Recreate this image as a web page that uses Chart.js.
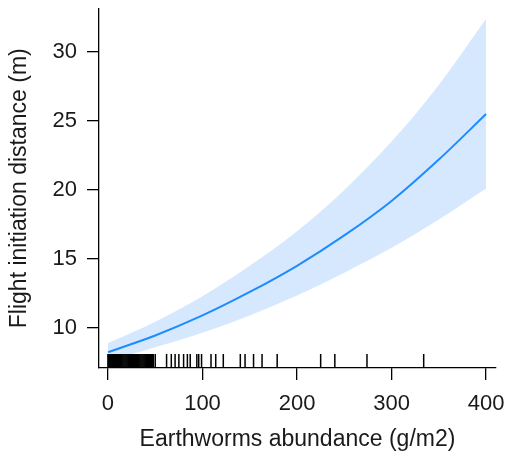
<!DOCTYPE html>
<html>
<head>
<meta charset="utf-8">
<script src="https://cdn.jsdelivr.net/npm/chart.js@4"></script>
<style>
  html, body { margin: 0; padding: 0; background: #fff; }
  #wrap { width: 507px; height: 457px; }
</style>
</head>
<body>
<div id="wrap"><canvas id="fid-chart"></canvas></div>
<script>
const abundance = [0, 50, 100, 150, 200, 250, 300, 350, 400];
// fitted flight initiation distance (m) and its confidence band
const fitted = [8.24, 9.45, 10.9, 12.6, 14.5, 16.7, 19.2, 22.2, 25.5];
const upperCI = [8.9, 10.45, 12.3, 14.5, 17.0, 20.0, 23.5, 27.6, 32.4];
const lowerCI = [7.6, 8.6, 9.65, 10.9, 12.35, 14.0, 15.8, 17.85, 20.1];
// observed abundances (rug)
const observed = [0, 0.5, 1, 1.5, 2, 2.5, 3, 4, 5, 6, 7, 8, 9, 10, 11, 12, 13, 14, 15,
  16, 17, 18, 19, 20, 21, 22, 23, 24, 25, 26, 27, 28, 29, 30, 31, 32, 33, 34, 35,
  36, 37, 38, 39, 40, 41, 42, 43, 44, 45, 46, 47, 48, 50, 62, 67, 71, 75, 80, 84,
  87, 94, 96, 99, 109, 114, 122, 140, 145, 154, 163, 179, 225, 240, 274, 334];
const xTicks = [0, 100, 200, 300, 400];
const yTicks = [10, 15, 20, 25, 30];

const FONT = "'Liberation Sans', Arial, sans-serif";
const INK = '#1a1a1a';

function pts(xs, ys) {
  return xs.map((x, i) => ({ x: x, y: ys[i] }));
}

const ctx = document.getElementById('fid-chart');

new Chart(ctx, {
  type: 'line',
  data: {
    datasets: [
      {
        label: 'upper',
        data: pts(abundance, upperCI),
        order: 3,
        borderWidth: 0,
        pointRadius: 0,
        backgroundColor: '#d6e8fe',
        fill: '+1',
        cubicInterpolationMode: 'monotone'
      },
      {
        label: 'lower',
        data: pts(abundance, lowerCI),
        order: 4,
        borderWidth: 0,
        pointRadius: 0,
        fill: false,
        cubicInterpolationMode: 'monotone'
      },
      {
        label: 'fit',
        data: pts(abundance, fitted),
        order: 1,
        borderColor: '#1e8cff',
        borderWidth: 2,
        pointRadius: 0,
        fill: false,
        cubicInterpolationMode: 'monotone'
      },
      {
        label: 'rug',
        data: observed.map(v => ({ x: v, y: 7.6 })),
        order: 0,
        showLine: false,
        pointStyle: 'line',
        rotation: 90,
        pointRadius: 7,
        borderWidth: 1.5,
        borderColor: '#000',
        pointBorderColor: '#000'
      }
    ]
  },
  options: {
    responsive: true,
    maintainAspectRatio: false,
    animation: false,
    events: [],
    layout: { padding: { top: 5, right: 11, left: 0, bottom: 0 } },
    plugins: {
      legend: { display: false },
      tooltip: { enabled: false }
    },
    scales: {
      x: {
        type: 'linear',
        min: -9.5,
        max: 410.5,
        afterFit: s => { s.height = 89; s.paddingLeft = 0; s.paddingRight = 0; },
        afterBuildTicks: s => { s.ticks = xTicks.map(v => ({ value: v })); },
        border: { display: true, color: '#000', width: 1.3 },
        grid: { drawOnChartArea: false, drawTicks: true, tickLength: 12, color: '#000', lineWidth: 1.3 },
        ticks: {
          color: INK,
          padding: 11,
          maxRotation: 0,
          font: { family: FONT, size: 22 }
        },
        title: {
          display: true,
          text: 'Earthworms abundance (g/m2)',
          color: INK,
          padding: { top: 0, bottom: 4 },
          font: { family: FONT, size: 23 }
        }
      },
      y: {
        min: 7.09,
        max: 33.15,
        afterFit: s => { s.width = 99; s.paddingTop = 0; s.paddingBottom = 0; },
        afterBuildTicks: s => { s.ticks = yTicks.map(v => ({ value: v })); },
        border: { display: true, color: '#000', width: 1.3 },
        grid: { drawOnChartArea: false, drawTicks: true, tickLength: 12, color: '#000', lineWidth: 1.3 },
        ticks: {
          color: INK,
          padding: 10,
          font: { family: FONT, size: 22 }
        },
        title: {
          display: true,
          text: 'Flight initiation distance (m)',
          color: INK,
          padding: { top: 6, bottom: 0 },
          font: { family: FONT, size: 23 }
        }
      }
    }
  }
});
</script>
</body>
</html>
